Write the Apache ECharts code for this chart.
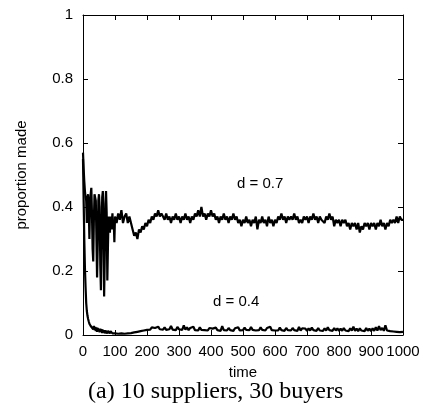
<!DOCTYPE html>
<html>
<head>
<meta charset="utf-8">
<script src="https://cdn.jsdelivr.net/npm/echarts@6/dist/echarts.min.js"></script>
<style>
  html, body { margin: 0; padding: 0; background: #fff; }
  #chart { width: 425px; height: 404px; }
</style>
</head>
<body>
<div id="chart"></div>
<script>
// time grid: dense at the start, every 5 steps afterwards
const timeEarly = [0,2,4,6,8,10,12,14,16,18,20,22,24,26,28,30,32,34,36,38,40,42,44,46,48,50,
  52,54,56,58,60,62,64,66,68,70,72,74,76,78,80,82,84,86,88,90,92,94,96,98,100];
const timeLate = [105,110,115,120,125,130,135,140,145,150,155,160,165,170,175,180,185,190,195,200,
  205,210,215,220,225,230,235,240,245,250,255,260,265,270,275,280,285,290,295,300,
  305,310,315,320,325,330,335,340,345,350,355,360,365,370,375,380,385,390,395,400,
  405,410,415,420,425,430,435,440,445,450,455,460,465,470,475,480,485,490,495,500,
  505,510,515,520,525,530,535,540,545,550,555,560,565,570,575,580,585,590,595,600,
  605,610,615,620,625,630,635,640,645,650,655,660,665,670,675,680,685,690,695,700,
  705,710,715,720,725,730,735,740,745,750,755,760,765,770,775,780,785,790,795,800,
  805,810,815,820,825,830,835,840,845,850,855,860,865,870,875,880,885,890,895,900,
  905,910,915,920,925,930,935,940,945,950,955,960,965,970,975,980,985,990,995,1000];

// d = 0.7
const d07Early = [0.57,0.52,0.48,0.45,0.43,0.42,0.35,0.43,0.44,0.40,0.30,0.41,0.44,0.46,0.38,0.27,
  0.23,0.36,0.44,0.44,0.42,0.30,0.18,0.28,0.42,0.44,0.40,0.22,0.14,0.30,0.43,0.45,0.33,0.12,
  0.25,0.41,0.45,0.38,0.17,0.28,0.37,0.35,0.32,0.37,0.33,0.35,0.38,0.33,0.36,0.29,0.37];
const d07Late = [
  0.35,0.38,0.36,0.39,0.35,0.37,0.38,0.35,0.37,0.35,
  0.33,0.31,0.32,0.30,0.33,0.32,0.34,0.33,0.35,0.34,
  0.36,0.35,0.37,0.36,0.38,0.37,0.39,0.37,0.38,0.37,
  0.36,0.38,0.36,0.37,0.35,0.37,0.36,0.38,0.36,0.37,
  0.35,0.37,0.36,0.38,0.36,0.37,0.35,0.37,0.36,0.38,
  0.37,0.39,0.37,0.40,0.37,0.38,0.36,0.38,0.37,0.39,
  0.37,0.38,0.36,0.37,0.35,0.37,0.36,0.38,0.36,0.37,
  0.35,0.37,0.36,0.38,0.36,0.37,0.35,0.36,0.34,0.36,
  0.35,0.37,0.35,0.36,0.34,0.36,0.35,0.37,0.33,0.36,
  0.35,0.37,0.35,0.36,0.34,0.37,0.35,0.36,0.34,0.36,
  0.35,0.37,0.36,0.38,0.36,0.37,0.35,0.37,0.36,0.37,
  0.36,0.38,0.36,0.37,0.35,0.36,0.35,0.37,0.36,0.37,
  0.35,0.37,0.36,0.38,0.36,0.37,0.35,0.37,0.36,0.36,
  0.35,0.37,0.36,0.38,0.36,0.37,0.34,0.36,0.35,0.36,
  0.34,0.36,0.35,0.36,0.34,0.35,0.33,0.35,0.34,0.35,
  0.33,0.35,0.32,0.34,0.33,0.35,0.34,0.35,0.33,0.35,
  0.34,0.35,0.33,0.35,0.34,0.36,0.34,0.35,0.33,0.35,
  0.34,0.36,0.35,0.36,0.35,0.37,0.35,0.37,0.36,0.36];

// d = 0.4
const d04Early = [0.55,0.42,0.30,0.21,0.15,0.10,0.075,0.06,0.05,0.042,0.035,0.038,0.028,0.032,0.022,
  0.03,0.018,0.028,0.015,0.025,0.012,0.024,0.01,0.022,0.012,0.02,0.008,0.02,0.01,0.018,0.006,
  0.016,0.008,0.015,0.005,0.014,0.008,0.012,0.005,0.013,0.007,0.011,0.005,0.012,0.006,0.01,
  0.005,0.011,0.006,0.01,0.005];
const d04Late = [
  0.008,0.004,0.01,0.005,0.009,0.004,0.008,0.005,0.01,0.006,
  0.012,0.008,0.014,0.01,0.016,0.012,0.018,0.014,0.02,0.016,
  0.022,0.017,0.024,0.018,0.022,0.016,0.026,0.018,0.023,0.017,
  0.024,0.016,0.022,0.018,0.028,0.017,0.023,0.015,0.025,0.018,
  0.022,0.016,0.03,0.017,0.024,0.015,0.022,0.018,0.026,0.015,
  0.021,0.014,0.024,0.016,0.022,0.015,0.02,0.014,0.022,0.016,
  0.02,0.014,0.023,0.015,0.021,0.013,0.028,0.015,0.02,0.014,
  0.022,0.015,0.02,0.013,0.021,0.015,0.024,0.014,0.02,0.015,
  0.023,0.016,0.021,0.015,0.025,0.016,0.022,0.014,0.02,0.015,
  0.024,0.016,0.021,0.014,0.022,0.016,0.026,0.015,0.021,0.014,
  0.02,0.014,0.023,0.015,0.021,0.013,0.022,0.015,0.02,0.014,
  0.022,0.015,0.02,0.013,0.025,0.014,0.021,0.015,0.02,0.013,
  0.021,0.014,0.023,0.015,0.02,0.013,0.022,0.014,0.02,0.013,
  0.021,0.014,0.024,0.015,0.02,0.013,0.022,0.014,0.021,0.013,
  0.02,0.013,0.022,0.014,0.019,0.012,0.021,0.014,0.026,0.013,
  0.02,0.012,0.021,0.014,0.019,0.012,0.022,0.013,0.02,0.012,
  0.021,0.013,0.024,0.014,0.028,0.015,0.022,0.013,0.03,0.014,
  0.02,0.012,0.018,0.011,0.016,0.01,0.015,0.009,0.014,0.01];

const times = timeEarly.concat(timeLate);
const pairs = (vals) => times.map((t, i) => [t, vals[i]]);

const labelFont = { fontFamily: 'Liberation Sans', fontSize: 15, color: '#000' };

const chart = echarts.init(document.getElementById('chart'), null, { renderer: 'canvas' });

const tickStyle = { show: true, inside: true, length: 5, lineStyle: { color: '#000', width: 1 } };
const axisLineStyle = { show: true, onZero: false, lineStyle: { color: '#000', width: 1 } };

chart.setOption({
  animation: false,
  backgroundColor: '#fff',
  grid: { left: 83, right: 22, top: 15, bottom: 69, containLabel: false },
  xAxis: [
    {
      type: 'value', min: 0, max: 1000, interval: 100, position: 'bottom',
      name: 'time', nameLocation: 'middle', nameGap: 30,
      nameTextStyle: labelFont,
      axisLine: axisLineStyle, axisTick: tickStyle,
      axisLabel: Object.assign({ margin: 9, formatter: (v) => String(v) }, labelFont),
      splitLine: { show: false }
    },
    {
      type: 'value', min: 0, max: 1000, interval: 100, position: 'top',
      axisLine: axisLineStyle, axisTick: tickStyle,
      axisLabel: { show: false }, splitLine: { show: false }
    }
  ],
  yAxis: [
    {
      type: 'value', min: 0, max: 1, interval: 0.2, position: 'left',
      name: 'proportion made', nameLocation: 'middle', nameGap: 54, nameRotate: 90,
      nameTextStyle: labelFont,
      axisLine: axisLineStyle, axisTick: tickStyle,
      axisLabel: Object.assign({ margin: 10 }, labelFont),
      splitLine: { show: false }
    },
    {
      type: 'value', min: 0, max: 1, interval: 0.2, position: 'right',
      axisLine: axisLineStyle, axisTick: tickStyle,
      axisLabel: { show: false }, splitLine: { show: false }
    }
  ],
  series: [
    {
      name: 'd = 0.7', type: 'line', data: pairs(d07Early.concat(d07Late)),
      showSymbol: false, symbol: 'none',
      lineStyle: { color: '#000', width: 2.2 }
    },
    {
      name: 'd = 0.4', type: 'line', data: pairs(d04Early.concat(d04Late)),
      showSymbol: false, symbol: 'none',
      lineStyle: { color: '#000', width: 2.2 }
    }
  ],
  graphic: [
    { type: 'text', left: 237, top: 176, style: { text: 'd = 0.7', font: '15px "Liberation Sans"', fill: '#000' } },
    { type: 'text', left: 213, top: 294, style: { text: 'd = 0.4', font: '15px "Liberation Sans"', fill: '#000' } },
    { type: 'text', left: 88, top: 380, style: { text: '(a) 10 suppliers, 30 buyers', font: '24px "Liberation Serif"', fill: '#000' } }
  ]
});
</script>
</body>
</html>
